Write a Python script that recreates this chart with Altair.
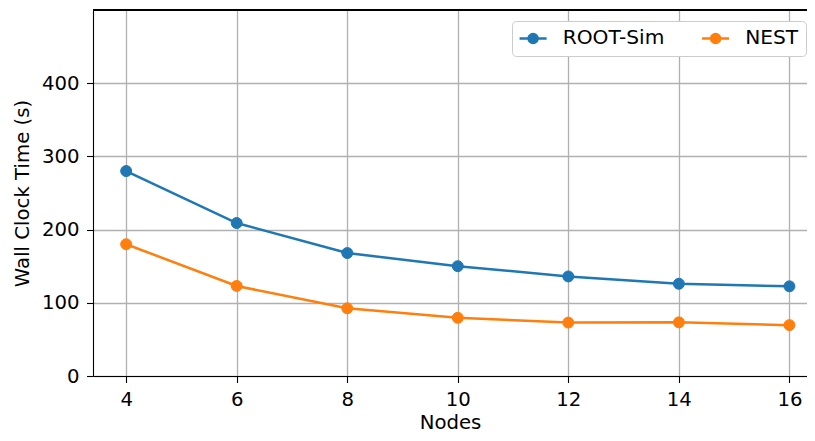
import altair as alt
import pandas as pd

nodes = [4, 6, 8, 10, 12, 14, 16]
root_sim = [280, 209, 168, 150, 136, 126, 122.5]
nest = [180, 123, 92.5, 79.5, 73, 73.3, 69.5]
series_names = ["ROOT-Sim", "NEST"]
series_colors = ["#1f77b4", "#ff7f0e"]
y_ticks = [0, 100, 200, 300, 400]
x_ticks = [4, 6, 8, 10, 12, 14, 16]

df = pd.DataFrame(
    {
        "Nodes": nodes * 2,
        "Time": root_sim + nest,
        "Series": [series_names[0]] * len(nodes) + [series_names[1]] * len(nodes),
    }
)

W, H = 714, 366
FONT = "DejaVu Sans"
FS = 19.7

sym_path = (
    "M-1.8,0H1.8"
    "M-0.6,0A0.6,0.6,0,1,1,0.6,0A0.6,0.6,0,1,1,-0.6,0Z"
)

legend = alt.Legend(
    title=None,
    orient="none",
    legendX=419,
    legendY=11,
    direction="horizontal",
    symbolType=sym_path,
    symbolSize=225,
    symbolStrokeWidth=2.5,
    symbolOffset=4,
    labelOffset=19.5,
    columnPadding=31.5,
    padding=7,
    labelFontSize=20.2,
    labelFont=FONT,
    labelColor="black",
    fillColor="white",
    strokeColor="#cccccc",
    cornerRadius=4,
)

x_enc = alt.X(
    "Nodes:Q",
    scale=alt.Scale(domain=[3.4, 16.318], nice=False, zero=False),
    axis=alt.Axis(values=x_ticks, title="Nodes", format="d"),
)
y_enc = alt.Y(
    "Time:Q",
    scale=alt.Scale(domain=[0, 500], nice=False),
    axis=alt.Axis(values=y_ticks, title="Wall Clock Time (s)"),
)
fill_scale = alt.Scale(domain=series_names, range=series_colors)

line = alt.Chart(df).mark_line(strokeWidth=2.5).encode(
    x=x_enc,
    y=y_enc,
    stroke=alt.Stroke("Series:N", scale=fill_scale, legend=legend, sort=series_names),
)

pts = alt.Chart(df).mark_point(filled=True, size=120, strokeWidth=1, opacity=1).encode(
    x=x_enc,
    y=y_enc,
    fill=alt.Fill("Series:N", scale=fill_scale, legend=legend, sort=series_names),
    stroke=alt.Stroke("Series:N", scale=fill_scale, legend=legend, sort=series_names),
)

top_border = alt.Chart(df).mark_rule(color="black", strokeWidth=1.1).encode(
    x=alt.value(0), x2=alt.value(W), y=alt.value(0)
)

chart = (
    alt.layer(line, pts, top_border)
    .properties(
        width=W,
        height=H,
        padding={"left": 85, "top": 2, "right": 0, "bottom": 57},
        autosize=alt.AutoSizeParams(type="none"),
    )
    .configure_view(stroke=None)
    .configure_axis(
        labelFont=FONT,
        titleFont=FONT,
        labelFontSize=FS,
        titleFontSize=FS,
        labelColor="black",
        titleColor="black",
        titleFontWeight="normal",
        domainColor="black",
        domainWidth=1.1,
        tickColor="black",
        tickWidth=1.1,
        tickSize=6.5,
        gridColor="#b0b0b0",
        gridWidth=1.3,
        grid=True,
    )
    .configure_axisX(labelPadding=7, titlePadding=3)
    .configure_axisY(labelPadding=7.5, titlePadding=9)
)

chart.save("out.html", embed_options={"renderer": "svg", "actions": False})
